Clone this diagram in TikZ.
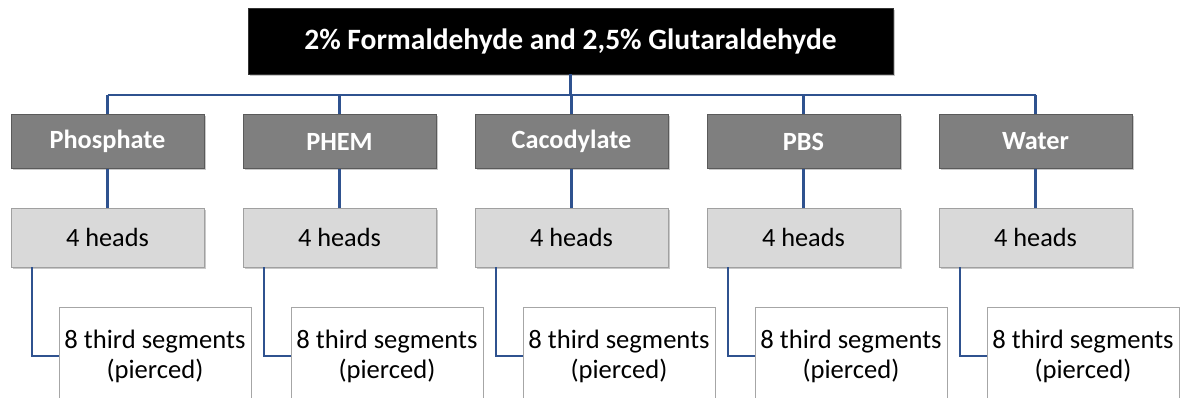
\documentclass[tikz,border=0pt]{standalone}
\usepackage{fontspec}
\setmainfont{Carlito}
\usetikzlibrary{shadows}
\definecolor{conncol}{RGB}{47,82,143}
\definecolor{darkbox}{RGB}{127,127,127}
\definecolor{darkedge}{RGB}{90,90,90}
\definecolor{lightbox}{RGB}{217,217,217}
\definecolor{lightedge}{RGB}{160,160,160}
\definecolor{whiteedge}{RGB}{166,166,166}
\tikzset{
  boxshadow/.style={drop shadow={shadow xshift=2pt,shadow yshift=-2pt,opacity=0.35,fill=black!60}},
  topbox/.style={draw=black!80,fill=black,text=white,minimum width=645pt,minimum height=66pt,inner sep=0pt,
    font=\fontsize{29.5}{34}\selectfont\bfseries,boxshadow},
  bufferbox/.style={draw=darkedge,fill=darkbox,text=white,minimum width=193pt,minimum height=54pt,inner sep=0pt,
    font=\fontsize{26.3}{31}\selectfont\bfseries,boxshadow},
  headbox/.style={draw=lightedge,fill=lightbox,text=black,minimum width=193pt,minimum height=59pt,inner sep=0pt,
    font=\fontsize{26.3}{31}\selectfont,boxshadow},
  segbox/.style={draw=whiteedge,fill=white,text=black,minimum width=192pt,minimum height=98pt,inner sep=0pt,
    align=center,font=\fontsize{26.6}{30}\selectfont},
  conn/.style={draw=conncol,line width=2.5pt}
}
\begin{document}
\begin{tikzpicture}[x=1pt,y=-1pt]
\useasboundingbox (0,0) rectangle (1187,398);
\clip (0,0) rectangle (1187,398);
\fill[white] (0,0) rectangle (1187,398);
\coordinate (bus) at (570.5,95);
\node[topbox] (top) at (570.5,41) {2\% Formaldehyde and 2,5\% Glutaraldehyde};
\foreach \i/\t in {0/Phosphate,1/PHEM,2/Cacodylate,3/PBS,4/Water}{
  \pgfmathsetmacro{\cx}{107.5+232*\i}
  \node[bufferbox] (buf\i) at (\cx,141.5) {\t};
  \node[headbox] (head\i) at (\cx,237.5) {4 heads};
  \node[segbox] (seg\i) at (\cx+47.5,356) {8 third segments\\(pierced)};
  \coordinate (tap\i) at ([xshift=21pt]head\i.south west);
}
\draw[conn] (top.south) -- (bus);
\draw[conn] (buf0.north |- bus) -- (buf4.north |- bus);
\foreach \i in {0,...,4}{
  \draw[conn] (buf\i.north |- bus) -- (buf\i.north);
  \draw[conn] (buf\i.south) -- (head\i.north);
  \draw[conn] (tap\i) |- (seg\i.west);
}
\end{tikzpicture}
\end{document}
